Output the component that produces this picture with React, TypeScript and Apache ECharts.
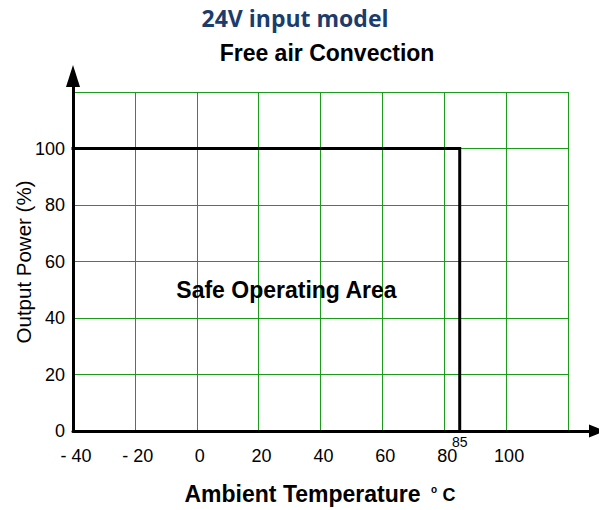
import { useEffect, useRef } from "react";
import * as echarts from "echarts";

// ---- data ----
const xMin = -40;
const xMax = 120;
const xStep = 20;
const yMin = 0;
const yMax = 120;
const yStep = 20;
const curveTemp = [-40, 85, 85];
const curvePower = [100, 100, 0];
const deratingPoint = [85, 0];
const deratingText = "85";
const areaPoint = [29, 50];
const areaText = "Safe Operating Area";
const titleText = "24V input model";
const subtitleText = "Free air Convection";
const xName = "Ambient Temperature";
const xUnitSup = "o";
const xUnit = "C";
const yName = "Output Power (%)";

const GREEN = "#1b9c1b";
const SANS = "'Liberation Sans', Arial, sans-serif";

export default function App() {
  const ref = useRef<HTMLDivElement>(null);
  useEffect(() => {
    document.body.style.margin = "0";
    if (!ref.current) return;
    const chart = echarts.init(ref.current, undefined, { renderer: "svg" });
    const option: any = {
      animation: false,
      backgroundColor: "#ffffff",
      grid: [
        { left: 73, right: 31, top: 92, bottom: 79 },
        { left: 73, right: 2, top: 76, bottom: 79 },
      ],
      xAxis: [
        {
          type: "value",
          gridIndex: 0,
          min: xMin,
          max: xMax,
          interval: xStep,
          axisLine: { show: false },
          axisTick: { show: false },
          splitLine: { show: true, lineStyle: { color: GREEN, width: 1 } },
          axisLabel: {
            margin: 16,
            fontSize: 18,
            color: "#000",
            fontFamily: SANS,
            padding: [0, 0, 0, 6],
            formatter: (v: number) =>
              v === xMax ? "" : v < 0 ? "- " + Math.abs(v) : String(v),
          },
        },
        {
          type: "value",
          gridIndex: 1,
          min: 0,
          max: 1,
          z: 5,
          axisLine: {
            show: true,
            onZero: false,
            symbol: ["none", "triangle"],
            symbolSize: [13, 16],
            lineStyle: { color: "#000", width: 3 },
          },
          axisTick: { show: false },
          axisLabel: { show: false },
          splitLine: { show: false },
        },
      ],
      yAxis: [
        {
          type: "value",
          gridIndex: 0,
          min: yMin,
          max: yMax,
          interval: yStep,
          axisLine: { show: false },
          axisTick: { show: false },
          splitLine: { show: true, lineStyle: { color: GREEN, width: 1 } },
          axisLabel: {
            margin: 8,
            fontSize: 18,
            color: "#000",
            fontFamily: SANS,
            formatter: (v: number) => (v === yMax ? "" : String(v)),
          },
        },
        {
          type: "value",
          gridIndex: 1,
          min: 0,
          max: 1,
          z: 5,
          axisLine: {
            show: true,
            onZero: false,
            symbol: ["none", "triangle"],
            symbolSize: [14, 22],
            lineStyle: { color: "#000", width: 3 },
          },
          axisTick: { show: false },
          axisLabel: { show: false },
          splitLine: { show: false },
        },
      ],
      series: [
        {
          type: "line",
          xAxisIndex: 0,
          yAxisIndex: 0,
          data: curveTemp.map((t, i) => [t, curvePower[i]]),
          showSymbol: false,
          lineStyle: { color: "#000", width: 3, join: "miter", cap: "square" },
          z: 4,
        },
      ],
    };
    chart.setOption(option);

    const pDer = chart.convertToPixel({ gridIndex: 0 }, deratingPoint) as number[];
    const pArea = chart.convertToPixel({ gridIndex: 0 }, areaPoint) as number[];

    const txt = (
      id: string,
      x: number,
      y: number,
      text: string,
      fontSize: number,
      bold: boolean,
      extra: any = {}
    ) => ({
      type: "text",
      id,
      x,
      y,
      z: 10,
      ...extra,
      style: {
        text,
        align: "center",
        verticalAlign: "middle",
        fontSize,
        fontWeight: bold ? "bold" : "normal",
        fontFamily: SANS,
        fill: "#000",
        ...(extra.style || {}),
      },
    });

    chart.setOption({
      graphic: [
        txt("title", 295, 18, titleText, 23, true, {
          style: { fontFamily: "'Open Sans', sans-serif", fill: "#1b3d6d" },
        }),
        txt("subtitle", 327, 53, subtitleText, 23, true),
        txt("xname", 302.5, 494, xName, 23, true),
        txt("xunitsup", 434, 489.5, xUnitSup, 10, true),
        txt("xunit", 449, 495, xUnit, 18, true),
        txt("yname", 23, 262, yName, 20.5, false, { rotation: Math.PI / 2 }),
        txt("der", pDer[0], pDer[1] + 11, deratingText, 14, false),
        txt("area", pArea[0], pArea[1], areaText, 23, true),
      ],
    });
    return () => chart.dispose();
  }, []);
  return <div ref={ref} style={{ width: 599, height: 510 }} />;
}
